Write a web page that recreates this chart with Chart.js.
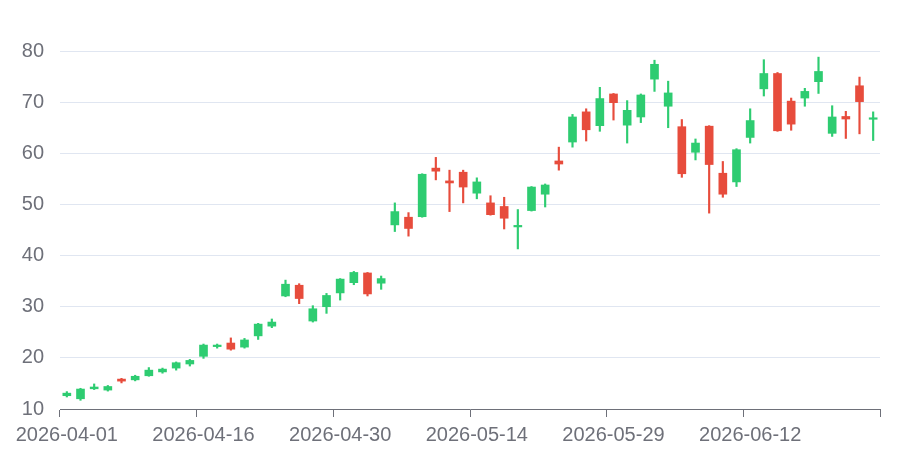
<!DOCTYPE html>
<html>
<head>
<meta charset="utf-8">
<script src="https://cdn.jsdelivr.net/npm/chart.js@4"></script>
<style>
  html, body { margin: 0; padding: 0; background: #fff; }
  #wrap { width: 914px; height: 464px; }
</style>
</head>
<body>
<div id="wrap"><canvas id="candleChart"></canvas></div>
<script>
// Candlestick (floating bars: body + wick)

const dates = [
  "2026-04-01", "2026-04-02", "2026-04-06", "2026-04-07", "2026-04-08",
  "2026-04-09", "2026-04-10", "2026-04-13", "2026-04-14", "2026-04-15",
  "2026-04-16", "2026-04-17", "2026-04-20", "2026-04-21", "2026-04-22",
  "2026-04-23", "2026-04-24", "2026-04-27", "2026-04-28", "2026-04-29",
  "2026-04-30", "2026-05-01", "2026-05-04", "2026-05-05", "2026-05-06",
  "2026-05-07", "2026-05-08", "2026-05-11", "2026-05-12", "2026-05-13",
  "2026-05-14", "2026-05-15", "2026-05-18", "2026-05-19", "2026-05-20",
  "2026-05-21", "2026-05-22", "2026-05-26", "2026-05-27", "2026-05-28",
  "2026-05-29", "2026-06-01", "2026-06-02", "2026-06-03", "2026-06-04",
  "2026-06-05", "2026-06-08", "2026-06-09", "2026-06-10", "2026-06-11",
  "2026-06-12", "2026-06-15", "2026-06-16", "2026-06-17", "2026-06-18",
  "2026-06-19", "2026-06-22", "2026-06-23", "2026-06-24", "2026-06-25",
];

const openVals = [
  12.6, 12.0, 13.95, 13.7, 15.85, 15.7, 16.5, 17.25, 18.0, 18.8,
  20.3, 22.2, 22.9, 22.1, 24.3, 26.2, 32.1, 34.2, 27.2, 30.0,
  32.7, 34.7, 36.6, 34.6, 46.0, 47.5, 47.6, 57.1, 54.6, 56.3,
  52.2, 50.3, 49.6, 45.6, 48.8, 52.0, 58.5, 62.2, 68.1, 65.4,
  71.6, 65.5, 67.1, 74.5, 69.2, 65.2, 60.2, 65.3, 56.1, 54.4,
  63.1, 72.6, 75.6, 70.2, 70.8, 74.0, 63.9, 67.2, 73.2, 66.65,
];

const closeVals = [
  13.1, 13.9, 14.3, 14.4, 15.45, 16.4, 17.6, 17.8, 19.05, 19.5,
  22.5, 22.5, 21.7, 23.5, 26.6, 27.0, 34.4, 31.6, 29.6, 32.2,
  35.4, 36.7, 32.5, 35.5, 48.6, 45.3, 55.9, 56.5, 54.2, 53.4,
  54.4, 48.0, 47.3, 45.9, 53.4, 53.8, 57.9, 67.1, 64.6, 70.7,
  69.9, 68.4, 71.4, 77.4, 71.8, 56.0, 62.0, 57.8, 52.0, 60.7,
  66.4, 75.6, 64.4, 65.7, 72.1, 76.0, 67.1, 66.7, 70.1, 66.9,
];

const lowVals = [
  12.35, 11.7, 13.8, 13.5, 15.1, 15.5, 16.4, 17.0, 17.6, 18.4,
  19.9, 21.9, 21.5, 21.9, 23.6, 25.9, 31.95, 30.6, 27.0, 28.7,
  31.3, 34.3, 32.1, 33.4, 44.7, 43.8, 47.5, 54.8, 48.6, 50.3,
  51.1, 47.9, 45.2, 41.3, 48.7, 49.5, 56.7, 61.2, 62.4, 64.3,
  66.5, 62.0, 66.0, 72.1, 65.0, 55.3, 58.7, 48.3, 51.4, 53.5,
  62.0, 71.2, 64.3, 64.5, 69.2, 71.7, 63.3, 62.9, 63.8, 62.5,
];

const highVals = [
  13.4, 14.05, 14.9, 14.6, 16.0, 16.6, 18.1, 18.0, 19.2, 19.7,
  22.7, 22.7, 23.9, 23.8, 26.75, 27.6, 35.2, 34.5, 30.2, 32.6,
  35.5, 36.9, 36.7, 36.0, 50.3, 48.4, 56.0, 59.2, 56.7, 56.7,
  55.2, 51.7, 51.4, 49.0, 53.5, 54.0, 61.2, 67.6, 68.7, 72.9,
  71.7, 70.3, 71.6, 78.2, 74.1, 66.6, 62.8, 65.4, 58.4, 60.9,
  68.7, 78.3, 75.8, 70.8, 72.7, 78.8, 69.3, 68.2, 74.9, 68.1,
];

const yTicks = [10, 20, 30, 40, 50, 60, 70, 80];

const upColor = "#2ecc71";
const downColor = "#e74c3c";
const axisColor = "#6E7079";
const gridColor = "#E0E6F1";

const candleColor = (ctx) =>
  closeVals[ctx.dataIndex] >= openVals[ctx.dataIndex] ? upColor : downColor;

const bodies = openVals.map((o, i) => [o, closeVals[i]]);
const wicks = lowVals.map((l, i) => [l, highVals[i]]);

const candleChart = document.getElementById("candleChart");

new Chart(candleChart, {
  type: "bar",
  data: {
    labels: dates,
    datasets: [
      {
        label: "body",
        data: bodies,
        grouped: false,
        barThickness: 8,
        minBarLength: 1.5,
        backgroundColor: candleColor,
        borderWidth: 0,
      },
      {
        label: "wick",
        data: wicks,
        grouped: false,
        barThickness: 1.5,
        backgroundColor: candleColor,
        borderWidth: 0,
      },
    ],
  },
  options: {
    responsive: true,
    maintainAspectRatio: false,
    animation: false,
    layout: {
      padding: { left: 0, right: 34, top: 51, bottom: 0 },
    },
    plugins: {
      legend: { display: false },
      tooltip: { enabled: false },
    },
    scales: {
      x: {
        type: "category",
        offset: true,
        grid: {
          offset: true,
          drawOnChartArea: false,
          drawTicks: true,
          tickLength: 8,
          tickWidth: 1,
          color: (ctx) =>
            ctx.index === undefined || ctx.index % 10 === 0
              ? axisColor
              : "rgba(0,0,0,0)",
        },
        border: { display: true, color: axisColor, width: 1 },
        ticks: {
          autoSkip: false,
          maxRotation: 0,
          minRotation: 0,
          padding: 6,
          color: axisColor,
          font: { family: "Liberation Sans, Arial, sans-serif", size: 20 },
          callback: (value, index) => (index % 10 === 0 ? dates[index] : ""),
        },
        afterFit: (scale) => {
          scale.height = 55;
        },
      },
      y: {
        min: yTicks[0],
        max: yTicks[yTicks.length - 1],
        afterBuildTicks: (scale) => {
          scale.ticks = yTicks.map((v) => ({ value: v }));
        },
        grid: {
          color: gridColor,
          drawTicks: false,
        },
        border: { display: false },
        ticks: {
          padding: 16,
          color: axisColor,
          font: { family: "Liberation Sans, Arial, sans-serif", size: 20 },
        },
        afterFit: (scale) => {
          scale.width = 60;
        },
      },
    },
  },
});
</script>
</body>
</html>
